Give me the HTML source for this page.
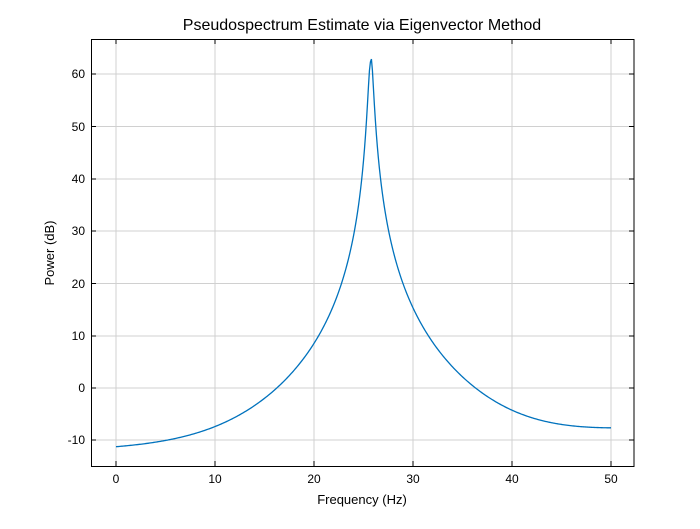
<!DOCTYPE html>
<html><head><meta charset="utf-8"><style>body{margin:0;background:#fff}</style></head><body>
<svg width="700" height="524" xmlns="http://www.w3.org/2000/svg" font-family="Liberation Sans, sans-serif">
<rect width="700" height="524" fill="#fff"/>
<g stroke="#d0d0d0" stroke-width="1">
<line x1="116" y1="39" x2="116" y2="466"/><line x1="215" y1="39" x2="215" y2="466"/><line x1="314" y1="39" x2="314" y2="466"/><line x1="413" y1="39" x2="413" y2="466"/><line x1="512" y1="39" x2="512" y2="466"/><line x1="611" y1="39" x2="611" y2="466"/>
<line x1="91" y1="74" x2="634" y2="74"/><line x1="91" y1="126.5" x2="634" y2="126.5"/><line x1="91" y1="179" x2="634" y2="179"/><line x1="91" y1="231" x2="634" y2="231"/><line x1="91" y1="283.5" x2="634" y2="283.5"/><line x1="91" y1="336" x2="634" y2="336"/><line x1="91" y1="388" x2="634" y2="388"/><line x1="91" y1="440" x2="634" y2="440"/>
</g>
<g stroke="#000" stroke-width="1">
<path d="M116 466v-5M215 466v-5M314 466v-5M413 466v-5M512 466v-5M611 466v-5M116 39v5M215 39v5M314 39v5M413 39v5M512 39v5M611 39v5"/>
<path d="M91 74h5M91 126.5h5M91 179h5M91 231h5M91 283.5h5M91 336h5M91 388h5M91 440h5M634 74h-5M634 126.5h-5M634 179h-5M634 231h-5M634 283.5h-5M634 336h-5M634 388h-5M634 440h-5"/>
</g>
<rect x="91.5" y="39.5" width="542.5" height="427" fill="none" stroke="#000" stroke-width="1"/>
<path id="c" fill="none" stroke="#0072bd" stroke-width="1.3" d="M116 446.7 L611 428"/>
<g font-size="12" fill="#000" text-anchor="middle">
<text x="116" y="483">0</text><text x="215" y="483">10</text><text x="314" y="483">20</text><text x="413" y="483">30</text><text x="512" y="483">40</text><text x="611" y="483">50</text>
</g>
<g font-size="12" fill="#000" text-anchor="end">
<text x="85" y="78">60</text><text x="85" y="131">50</text><text x="85" y="183">40</text><text x="85" y="235">30</text><text x="85" y="288">20</text><text x="85" y="340">10</text><text x="85" y="392">0</text><text x="85" y="444">-10</text>
</g>
<text x="362" y="504" font-size="13" text-anchor="middle">Frequency (Hz)</text>
<text transform="translate(54,253) rotate(-90)" font-size="13" text-anchor="middle">Power (dB)</text>
<text x="362" y="30" font-size="16" text-anchor="middle">Pseudospectrum Estimate via Eigenvector Method</text>
</svg>
<script>
var f0=25.72,g2=0.066,d="";
for(var k=0;k!==501;k++){var f=k*0.1;var dd=f-f0;var B=dd>0?11500:7600;
var fl=0.058+(0.14-0.058)*Math.pow(f/50,3);
var P=B/Math.pow(dd*dd+g2,2)+fl;var db=10*Math.log10(P);if(db>62.9)db=62.9;
var x=116+f*9.9,y=388-db*5.229;d+=(k?" L":"M")+x.toFixed(2)+" "+y.toFixed(2);}
document.getElementById("c").setAttribute("d",d);
</script>
</body></html>
